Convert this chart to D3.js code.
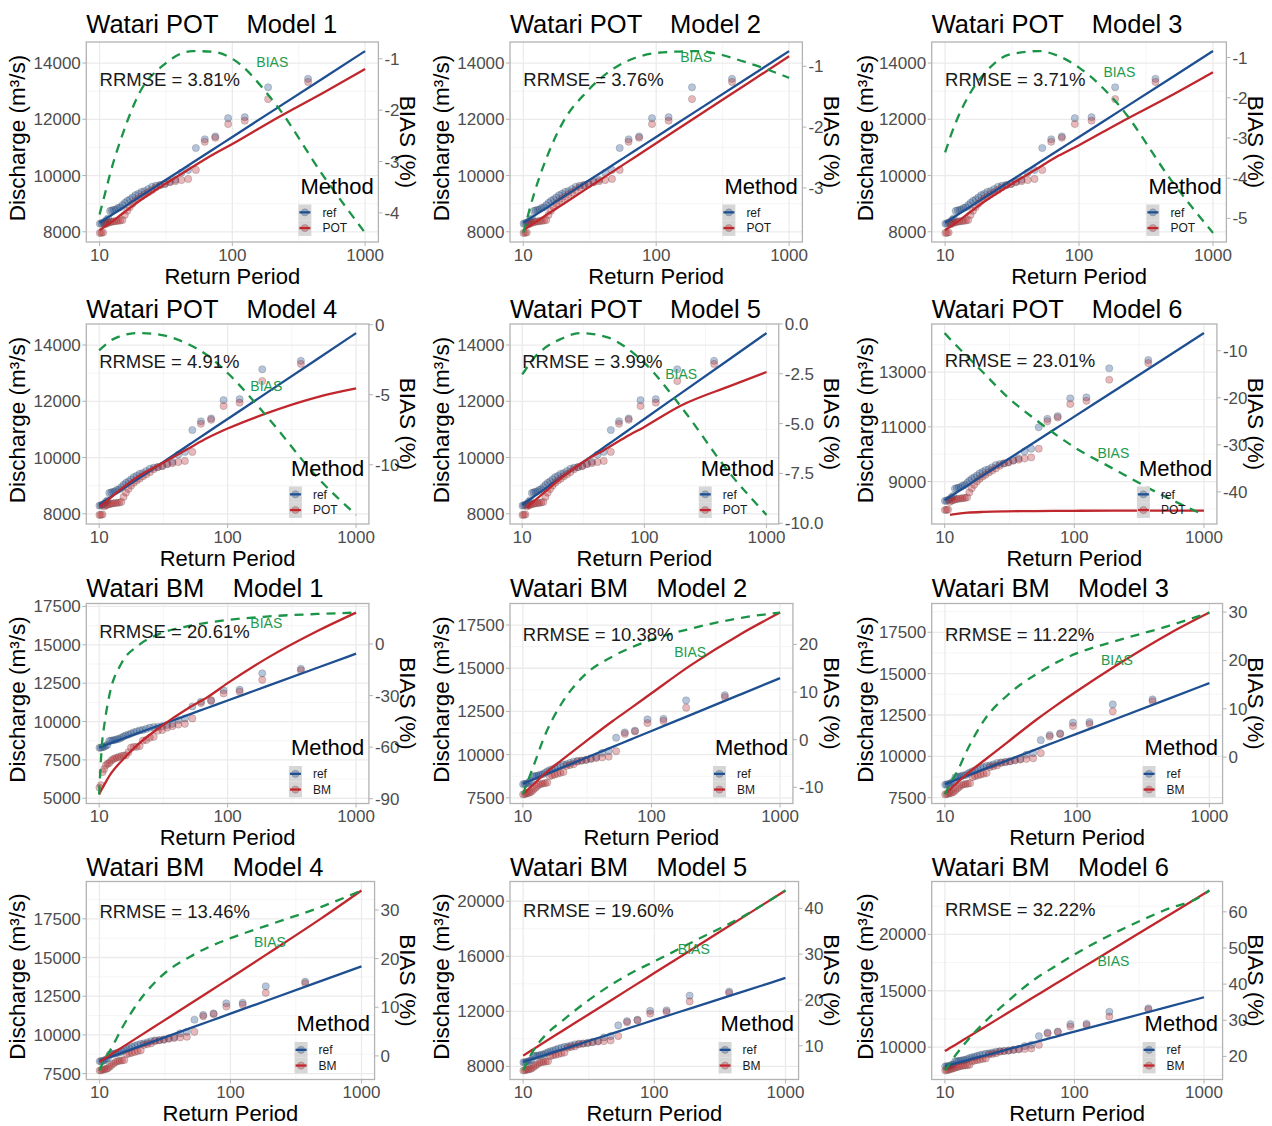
<!DOCTYPE html>
<html>
<head>
<meta charset="utf-8">
<script src="https://cdn.jsdelivr.net/npm/d3@7"></script>
<style>
  body { margin: 0; background: #fff; }
  svg { display: block; font-family: "Liberation Sans", Arial, Helvetica, sans-serif; }
</style>
</head>
<body>
<svg id="chart" width="1272" height="1126"></svg>
<script>
// ---------------- data ----------------
// Empirical return periods (years) of the observed sample, ascending
const returnPeriods = [10.05, 10.33, 10.63, 10.94, 11.27, 11.62, 12.0, 12.4, 12.83, 13.29,
  13.78, 14.31, 14.88, 15.5, 16.17, 16.91, 17.71, 18.6, 19.58, 20.67,
  21.88, 23.25, 24.8, 26.57, 28.62, 31.0, 33.82, 37.2, 41.33, 46.5,
  53.14, 62.0, 74.4, 93.0, 124.0, 186.0, 372.0];

// Discharge (m3/s) at those return periods
const refPoints = [8290, 8300, 8330, 8350, 8420, 8480, 8740, 8760, 8780, 8800,
  8850, 8870, 8950, 9030, 9100, 9150, 9220, 9300, 9350, 9420,
  9450, 9520, 9600, 9640, 9660, 9700, 9780, 9850, 10100, 10200,
  10980, 11290, 11390, 12040, 12075, 13140, 13440];
const potPoints = [7960, 7965, 7975, 8260, 8300, 8320, 8340, 8360, 8370, 8380,
  8390, 8400, 8420, 8600, 8750, 8880, 9000, 9100, 9180, 9250,
  9330, 9400, 9480, 9580, 9660, 9700, 9760, 9800, 9840, 9880,
  10200, 11200, 11340, 11830, 11950, 12720, 13330];
const bmPoints = [7700, 7720, 7750, 7780, 7800, 7850, 7950, 8050, 8150, 8250,
  8300, 8330, 8350, 8380, 8750, 8800, 8850, 8900, 8950, 9000,
  9350, 9400, 9450, 9600, 9650, 9700, 9750, 9800, 9840, 9880,
  10200, 11200, 11340, 11830, 11950, 12720, 13330];
const bm1Points = [5700, 5850, 6700, 6900, 7150, 7250, 7300, 7450, 7550, 7600,
  7650, 7700, 7750, 7780, 7800, 8000, 8300, 8350, 8350, 8400,
  8750, 8800, 8950, 9000, 9400, 9450, 9600, 9700, 9800, 9850,
  10200, 11200, 11340, 11830, 11950, 12720, 13330];
const bm6Points = [7930, 7950, 7990, 8030, 8080, 8120, 8180, 8230, 8280, 8330,
  8360, 8380, 8400, 8450, 8750, 8800, 8850, 8900, 8950, 9000,
  9350, 9400, 9450, 9600, 9650, 9700, 9750, 9800, 9840, 9880,
  10200, 11200, 11340, 11830, 11950, 12720, 13330];

// Return periods at which the fitted curves are tabulated
const curveT = [10, 10.5, 11, 12, 15, 20, 30, 50, 70, 100, 200, 500, 1000, 1100];

// Reference quantile curve (same for every panel)
const refCurve = [8320, 8385, 8446, 8562, 8857, 9239, 9776, 10453, 10899, 11372, 12290, 13505, 14425, null];

// Model quantile curves, one row per panel
const modelCurves = [
  [8060, 8125, 8190, 8310, 8660, 9100, 9650, 10300, 10720, 11120, 11950, 12980, 13790, null],
  [8060, 8125, 8188, 8305, 8604, 8990, 9534, 10220, 10671, 11150, 12080, 13310, 14240, null],
  [8060, 8125, 8190, 8310, 8660, 9100, 9640, 10280, 10700, 11080, 11870, 12870, 13670, null],
  [8240, 8315, 8390, 8530, 8900, 9320, 9760, 10330, 10700, 11030, 11570, 12150, 12455, null],
  [null, null, 8200, 8380, 8740, 9210, 9780, 10340, 10720, 11090, 11850, 12540, 13040, null],
  [null, null, 7780, 7810, 7860, 7890, 7910, 7920, 7925, 7930, 7935, 7935, 7935, null],
  [5250, 5600, 5900, 6450, 7450, 8500, 9650, 10900, 11600, 12500, 14100, 15900, 17100, null],
  [7710, 7860, 8000, 8260, 8930, 9680, 10700, 11950, 12720, 13550, 15150, 17000, 18220, null],
  [7760, 7900, 8040, 8310, 9000, 9780, 10880, 12260, 13100, 13950, 15520, 17430, 18690, null],
  [8240, 8360, 8470, 8680, 9210, 9890, 10840, 12040, 12840, 13680, 15340, 17560, 19330, null],
  [8780, 8907, 9028, 9255, 9837, 10586, 11643, 12974, 13850, 14780, 16586, 18974, 20780, null],
  [9650, 9800, 9940, 10200, 10880, 11750, 12980, 14530, 15550, 16630, 18730, 21500, 23600, 23890]
];

// Relative bias (%) of each model curve
const biasCurves = [
  [-4.03, -3.82, -3.62, -3.24, -2.45, -1.66, -1.13, -0.85, -0.86, -1.00, -1.80, -3.33, -4.39, null],
  [-3.74, -3.57, -3.40, -3.11, -2.50, -1.91, -1.42, -1.01, -0.86, -0.78, -0.75, -0.95, -1.19, null],
  [-3.36, -3.15, -2.95, -2.62, -1.95, -1.37, -0.93, -0.84, -0.96, -1.25, -2.20, -4.10, -5.36, null],
  [-1.83, -1.66, -1.50, -1.21, -0.78, -0.60, -0.72, -1.42, -2.20, -3.45, -6.50, -10.90, -13.58, null],
  [-2.53, -2.35, -2.17, -1.83, -1.25, -0.80, -0.46, -0.67, -1.16, -1.95, -4.16, -7.49, -9.58, null],
  [-6.26, -6.9, -7.5, -8.6, -11.3, -14.75, -19.66, -24.6, -27.6, -30.5, -35.1, -41.0, -44.9, null],
  [-87.5, -59, -46.5, -30, -10.9, -1.1, 6.1, 10.5, 12.5, 14.0, 16.0, 17.5, 18.3, null],
  [-11.5, -9.9, -8.5, -5.8, 1.2, 7.6, 13.5, 17.5, 19.4, 21.0, 23.3, 25.6, 26.7, null],
  [-7.72, -6.5, -5.3, -3.7, 1.9, 7.8, 12.9, 17.3, 19.6, 21.5, 24.1, 27.2, 29.9, null],
  [-3.0, -1.7, -0.6, 1.0, 5.9, 11.2, 16.5, 20.5, 22.5, 24.2, 27.0, 30.7, 34.0, null],
  [4.6, 5.9, 7.1, 9.0, 12.5, 15.5, 19.5, 23.8, 26.2, 28.4, 32.8, 38.6, 43.9, null],
  [16.1, 17.2, 18.3, 20.2, 24.5, 29.3, 35.0, 41.5, 44.8, 48.2, 54.0, 60.5, 64.8, 65.9]
];

const methods = ["POT", "POT", "POT", "POT", "POT", "POT", "BM", "BM", "BM", "BM", "BM", "BM"];
const modelNumbers = [1, 2, 3, 4, 5, 6, 1, 2, 3, 4, 5, 6];
const rrmse = [3.81, 3.76, 3.71, 4.91, 3.99, 23.01, 20.61, 10.38, 11.22, 13.46, 19.60, 32.22];
const modelPointSets = [potPoints, potPoints, potPoints, potPoints, potPoints, potPoints,
  bm1Points, bmPoints, bmPoints, bmPoints, bmPoints, bm6Points];

// Axis tick values
const xTicks = [10, 100, 1000];
const leftTicks = [
  [8000, 10000, 12000, 14000], [8000, 10000, 12000, 14000], [8000, 10000, 12000, 14000],
  [8000, 10000, 12000, 14000], [8000, 10000, 12000, 14000], [9000, 11000, 13000],
  [5000, 7500, 10000, 12500, 15000, 17500], [7500, 10000, 12500, 15000, 17500],
  [7500, 10000, 12500, 15000, 17500], [7500, 10000, 12500, 15000, 17500],
  [8000, 12000, 16000, 20000], [10000, 15000, 20000]
];
const rightTicks = [
  [-4, -3, -2, -1], [-3, -2, -1], [-5, -4, -3, -2, -1], [-10, -5, 0],
  [-10, -7.5, -5, -2.5, 0], [-40, -30, -20, -10], [-90, -60, -30, 0],
  [-10, 0, 10, 20], [0, 10, 20, 30], [0, 10, 20, 30], [10, 20, 30, 40], [20, 30, 40, 50, 60]
];

// Bias (%) at which the "BIAS" tag sits, placed at T = 200
const biasLabelAt = [-1.07, -0.84, -1.36, -4.40, -2.53, -31.8, 12.05, 18.5, 20.1, 23.4, 31.1, 46.5];

// ---------------- layout & style ----------------
const colX = [0, 424, 848];
const plotLeft = [86.3, 510, 931.7];
const rowTop = [42, 324, 603.5, 881.5];
const rowHeight = [200, 200, 200, 198];
const titleBase = [33, 318, 597, 876];

const C = {
  ref: "#1d4f91", model: "#c0272d", bias: "#1b9447", biasText: "#1f9b4d",
  border: "#b3b3b3", grid: "#ebebeb", gridMinor: "#f3f3f3", axisText: "#4d4d4d",
  key: "#d6d6d6"
};
const POINT_R = 3.6;

const svg = d3.select("#chart");
svg.append("rect").attr("width", 1272).attr("height", 1126).attr("fill", "#fff");

function drawPanel(i) {
  const col = i % 3, row = Math.floor(i / 3);
  const cx = colX[col];
  const H = rowHeight[row];
  const L = plotLeft[col], T = rowTop[row], B = T + H;
  const g = svg.append("g");

  // right axis label format
  const rt = rightTicks[i];
  const dec = rt.some(v => !Number.isInteger(v)) ? 1 : 0;
  const fmtR = v => v.toFixed(dec);
  const probe = g.append("text").attr("font-size", 17);
  const maxW = d3.max(rt, v => probe.text(fmtR(v)).node().getComputedTextLength());
  probe.remove();
  const R = cx + 399.5 - 6 - maxW;

  // series
  const mPts = modelPointSets[i];
  const refLine = curveT.map((t, k) => [t, refCurve[k]]).filter(d => d[1] != null);
  const modLine = curveT.map((t, k) => [t, modelCurves[i][k]]).filter(d => d[1] != null);
  const biasLine = curveT.map((t, k) => [t, biasCurves[i][k]]).filter(d => d[1] != null);

  // scales (5% padding, log x)
  const qAll = refPoints.concat(mPts, refLine.map(d => d[1]), modLine.map(d => d[1]));
  const [qmin, qmax] = d3.extent(qAll);
  const tAll = returnPeriods.concat(refLine.map(d => d[0]), modLine.map(d => d[0]), biasLine.map(d => d[0]));
  const [tmin, tmax] = d3.extent(tAll);
  const l0 = Math.log10(tmin), l1 = Math.log10(tmax), ex = (l1 - l0) * 0.05;
  const x = d3.scaleLog().domain([Math.pow(10, l0 - ex), Math.pow(10, l1 + ex)]).range([L, R]);
  const eq = (qmax - qmin) * 0.05;
  const y = d3.scaleLinear().domain([qmin - eq, qmax + eq]).range([B, T]);
  const [bmin, bmax] = d3.extent(biasLine, d => d[1]);
  const yb = d3.scaleLinear().domain([bmin, bmax]).range([y(qmin), y(qmax)]);

  // grid
  const [xd0, xd1] = x.domain();
  const xMinor = [];
  xTicks.forEach(t => [-0.5, 0.5].forEach(o => {
    const v = Math.pow(10, Math.log10(t) + o);
    if (v > xd0 && v < xd1 && !xMinor.some(m => Math.abs(m - v) < 1e-6)) xMinor.push(v);
  }));
  const lt = leftTicks[i], step = lt[1] - lt[0];
  const [yd0, yd1] = y.domain();
  const yMinor = [lt[0] - step / 2].concat(lt.map(v => v + step / 2)).filter(v => v > yd0 && v < yd1);

  const grid = g.append("g");
  grid.selectAll(".xm").data(xMinor).join("line")
    .attr("x1", d => x(d)).attr("x2", d => x(d)).attr("y1", T).attr("y2", B)
    .attr("stroke", C.gridMinor).attr("stroke-width", 0.8);
  grid.selectAll(".ym").data(yMinor).join("line")
    .attr("x1", L).attr("x2", R).attr("y1", d => y(d)).attr("y2", d => y(d))
    .attr("stroke", C.gridMinor).attr("stroke-width", 0.8);
  grid.selectAll(".xM").data(xTicks).join("line")
    .attr("x1", d => x(d)).attr("x2", d => x(d)).attr("y1", T).attr("y2", B)
    .attr("stroke", C.grid).attr("stroke-width", 1.3);
  grid.selectAll(".yM").data(lt).join("line")
    .attr("x1", L).attr("x2", R).attr("y1", d => y(d)).attr("y2", d => y(d))
    .attr("stroke", C.grid).attr("stroke-width", 1.3);

  // observed points
  const pts = g.append("g");
  pts.selectAll(".pr").data(returnPeriods).join("circle")
    .attr("cx", d => x(d)).attr("cy", (d, k) => y(refPoints[k])).attr("r", POINT_R)
    .attr("fill", C.ref).attr("fill-opacity", 0.33)
    .attr("stroke", "#444").attr("stroke-opacity", 0.35).attr("stroke-width", 0.7);
  pts.selectAll(".pm").data(returnPeriods).join("circle")
    .attr("cx", d => x(d)).attr("cy", (d, k) => y(mPts[k])).attr("r", POINT_R)
    .attr("fill", C.model).attr("fill-opacity", 0.33)
    .attr("stroke", "#444").attr("stroke-opacity", 0.35).attr("stroke-width", 0.7);

  // fitted curves
  const line = d3.line().x(d => x(d[0])).y(d => y(d[1])).curve(d3.curveMonotoneX);
  g.append("path").attr("d", line(refLine)).attr("fill", "none")
    .attr("stroke", C.ref).attr("stroke-width", 2.3);
  g.append("path").attr("d", line(modLine)).attr("fill", "none")
    .attr("stroke", C.model).attr("stroke-width", 2.3);
  const bline = d3.line().x(d => x(d[0])).y(d => yb(d[1])).curve(d3.curveMonotoneX);
  g.append("path").attr("d", bline(biasLine)).attr("fill", "none")
    .attr("stroke", C.bias).attr("stroke-width", 2.3).attr("stroke-dasharray", "9 7");

  // annotations
  g.append("text").attr("x", x(10)).attr("y", y(qmax * 0.93)).attr("dy", "0.36em")
    .attr("font-size", 18.5).attr("fill", "#1a1a1a")
    .text("RRMSE = " + rrmse[i].toFixed(2) + "%");
  g.append("text").attr("x", x(200)).attr("y", yb(biasLabelAt[i])).attr("dy", "0.36em")
    .attr("text-anchor", "middle").attr("font-size", 14).attr("fill", C.biasText)
    .text("BIAS");

  // axes: ticks and labels
  const ax = g.append("g").attr("fill", C.axisText).attr("font-size", 17);
  lt.forEach(v => {
    g.append("line").attr("x1", L - 4).attr("x2", L).attr("y1", y(v)).attr("y2", y(v))
      .attr("stroke", C.border).attr("stroke-width", 1);
    ax.append("text").attr("x", L - 5.5).attr("y", y(v) + 6).attr("text-anchor", "end").text(v);
  });
  rt.forEach(v => {
    g.append("line").attr("x1", R).attr("x2", R + 4).attr("y1", yb(v)).attr("y2", yb(v))
      .attr("stroke", C.border).attr("stroke-width", 1);
    ax.append("text").attr("x", R + 6).attr("y", yb(v) + 6).text(fmtR(v));
  });
  xTicks.forEach(v => {
    g.append("line").attr("x1", x(v)).attr("x2", x(v)).attr("y1", B).attr("y2", B + 4)
      .attr("stroke", C.border).attr("stroke-width", 1);
    ax.append("text").attr("x", x(v)).attr("y", B + 18.5).attr("text-anchor", "middle").text(v);
  });

  // panel border
  g.append("rect").attr("x", L).attr("y", T).attr("width", R - L).attr("height", H)
    .attr("fill", "none").attr("stroke", C.border).attr("stroke-width", 1.3);

  // axis titles
  g.append("text").attr("x", (L + R) / 2).attr("y", B + 41.5).attr("text-anchor", "middle")
    .attr("font-size", 22).attr("fill", "#000").text("Return Period");
  g.append("text")
    .attr("transform", `translate(${cx + 25},${(T + B) / 2 - 4}) rotate(-90)`)
    .attr("text-anchor", "middle").attr("font-size", 22.5).attr("fill", "#000")
    .text("Discharge (m³/s)");
  g.append("text")
    .attr("transform", `translate(${cx + 399.5},${(T + B) / 2}) rotate(90)`)
    .attr("text-anchor", "middle").attr("font-size", 22.5).attr("fill", "#000")
    .text("BIAS (%)");

  // title
  g.append("text").attr("x", L).attr("y", titleBase[row]).attr("font-size", 25.5)
    .attr("fill", "#000").style("white-space", "pre")
    .text(`Watari ${methods[i]}    Model ${modelNumbers[i]}`);

  // legend
  const lg = g.append("g").attr("transform", `translate(${R - 80},${B - 48.5})`);
  lg.append("text").attr("x", 2).attr("y", 0).attr("font-size", 22).attr("fill", "#000").text("Method");
  const keys = [{ name: "ref", color: C.ref }, { name: methods[i], color: C.model }];
  keys.forEach((k, j) => {
    const ky = 11 + j * 15.7;
    lg.append("rect").attr("x", 0).attr("y", ky).attr("width", 13).attr("height", 15.7).attr("fill", C.key);
    lg.append("circle").attr("cx", 6.5).attr("cy", ky + 7.85).attr("r", POINT_R)
      .attr("fill", k.color).attr("fill-opacity", 0.33)
      .attr("stroke", "#444").attr("stroke-opacity", 0.35).attr("stroke-width", 0.7);
    lg.append("line").attr("x1", 1).attr("x2", 12).attr("y1", ky + 7.85).attr("y2", ky + 7.85)
      .attr("stroke", k.color).attr("stroke-width", 2.3);
    lg.append("text").attr("x", 24).attr("y", ky + 7.85 + 4.3).attr("font-size", 12)
      .attr("fill", "#1a1a1a").text(k.name);
  });
}

for (let i = 0; i < 12; i++) drawPanel(i);
</script>
</body>
</html>
